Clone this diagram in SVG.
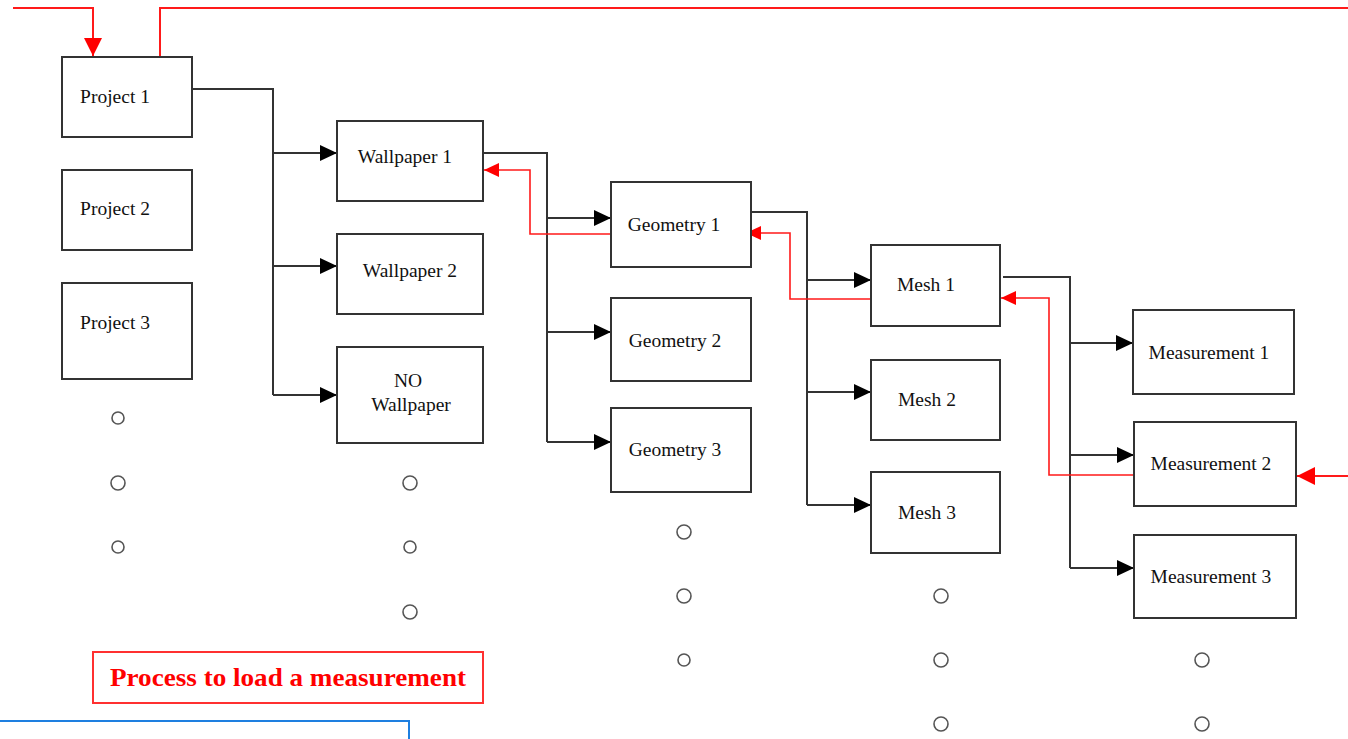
<svg xmlns="http://www.w3.org/2000/svg" width="1348" height="739" viewBox="0 0 1348 739">
<style>
.box{fill:#fff;stroke:#333;stroke-width:2}
.lbl{font-family:"Liberation Serif","Times New Roman",serif;font-size:19.5px;fill:#111;text-anchor:middle}
.con{fill:none;stroke:#333;stroke-width:2}
.red{fill:none;stroke:#ff1a1a;stroke-width:1.6}
.redt{fill:none;stroke:#ff1a1a;stroke-width:2}
.dot{fill:#fff;stroke:#555;stroke-width:1.6}
</style>
<defs>
<marker id="ab" markerUnits="userSpaceOnUse" markerWidth="18" markerHeight="18" refX="17" refY="9" orient="auto" viewBox="0 0 18 18">
<path d="M0,1 L17,9 L0,17 z" fill="#000"/>
</marker>
<marker id="ar" markerUnits="userSpaceOnUse" markerWidth="16" markerHeight="16" refX="15" refY="8" orient="auto" viewBox="0 0 16 16">
<path d="M0,1 L15,8 L0,15 z" fill="#ff0000"/>
</marker>
<marker id="arb" markerUnits="userSpaceOnUse" markerWidth="20" markerHeight="20" refX="18" refY="10" orient="auto" viewBox="0 0 20 20">
<path d="M0,1 L18,10 L0,19 z" fill="#ff0000"/>
</marker>
</defs>
<rect width="1348" height="739" fill="#fff"/>

<g id="connectors">
<path class="redt" d="M13,8 H93 V56" marker-end="url(#arb)"/>
<path class="redt" d="M160,57 V8 H1348"/>
<path class="redt" d="M1348,476 H1297" marker-end="url(#arb)"/>
<path class="con" d="M192,89 H273 V395"/>
<path class="con" d="M273,153 H337" marker-end="url(#ab)"/>
<path class="con" d="M273,266 H337" marker-end="url(#ab)"/>
<path class="con" d="M273,395 H337" marker-end="url(#ab)"/>
<path class="con" d="M483,153 H547 V442"/>
<path class="con" d="M547,218 H611" marker-end="url(#ab)"/>
<path class="con" d="M547,332 H611" marker-end="url(#ab)"/>
<path class="con" d="M547,442 H611" marker-end="url(#ab)"/>
<path class="con" d="M751,212 H807 V505"/>
<path class="con" d="M807,280 H871" marker-end="url(#ab)"/>
<path class="con" d="M807,392 H871" marker-end="url(#ab)"/>
<path class="con" d="M807,505 H871" marker-end="url(#ab)"/>
<path class="con" d="M1003,277 H1070 V568"/>
<path class="con" d="M1070,343 H1133" marker-end="url(#ab)"/>
<path class="con" d="M1070,455 H1134" marker-end="url(#ab)"/>
<path class="con" d="M1070,568 H1134" marker-end="url(#ab)"/>
<path class="red" d="M611,234 H530 V170 H484" marker-end="url(#ar)"/>
<path class="red" d="M871,299 H790 V233 H746" marker-end="url(#ar)"/>
<path class="red" d="M1133,475 H1049 V298 H1001" marker-end="url(#ar)"/>
</g>

<g id="project1"><rect class="box" x="62" y="57" width="130" height="80"/><text class="lbl" x="115" y="103">Project 1</text></g>
<g id="project2"><rect class="box" x="62" y="170" width="130" height="80"/><text class="lbl" x="115" y="215">Project 2</text></g>
<g id="project3"><rect class="box" x="62" y="283" width="130" height="96"/><text class="lbl" x="115" y="329">Project 3</text></g>

<g id="wallpaper1"><rect class="box" x="337" y="121" width="146" height="80"/><text class="lbl" x="405" y="163">Wallpaper 1</text></g>
<g id="wallpaper2"><rect class="box" x="337" y="234" width="146" height="80"/><text class="lbl" x="410" y="277">Wallpaper 2</text></g>
<g id="nowallpaper"><rect class="box" x="337" y="347" width="146" height="96"/><text class="lbl" x="408" y="387">NO</text><text class="lbl" x="411" y="411">Wallpaper</text></g>

<g id="geometry1"><rect class="box" x="611" y="182" width="140" height="85"/><text class="lbl" x="674" y="231">Geometry 1</text></g>
<g id="geometry2"><rect class="box" x="611" y="298" width="140" height="83"/><text class="lbl" x="675" y="347">Geometry 2</text></g>
<g id="geometry3"><rect class="box" x="611" y="408" width="140" height="84"/><text class="lbl" x="675" y="456">Geometry 3</text></g>

<g id="mesh1"><rect class="box" x="871" y="245" width="129" height="81"/><text class="lbl" x="926" y="291">Mesh 1</text></g>
<g id="mesh2"><rect class="box" x="871" y="360" width="129" height="80"/><text class="lbl" x="927" y="406">Mesh 2</text></g>
<g id="mesh3"><rect class="box" x="871" y="472" width="129" height="81"/><text class="lbl" x="927" y="519">Mesh 3</text></g>

<g id="measurement1"><rect class="box" x="1133" y="310" width="161" height="84"/><text class="lbl" x="1209" y="359">Measurement 1</text></g>
<g id="measurement2"><rect class="box" x="1134" y="422" width="162" height="84"/><text class="lbl" x="1211" y="470">Measurement 2</text></g>
<g id="measurement3"><rect class="box" x="1134" y="535" width="162" height="83"/><text class="lbl" x="1211" y="583">Measurement 3</text></g>

<g id="dots">
<circle class="dot" cx="118" cy="418" r="6"/>
<circle class="dot" cx="118" cy="483" r="7"/>
<circle class="dot" cx="118" cy="547" r="6"/>
<circle class="dot" cx="410" cy="483" r="7"/>
<circle class="dot" cx="410" cy="547" r="6"/>
<circle class="dot" cx="410" cy="612" r="7"/>
<circle class="dot" cx="684" cy="532" r="7"/>
<circle class="dot" cx="684" cy="596" r="7"/>
<circle class="dot" cx="684" cy="660" r="6"/>
<circle class="dot" cx="941" cy="596" r="7"/>
<circle class="dot" cx="941" cy="660" r="7"/>
<circle class="dot" cx="941" cy="724" r="7"/>
<circle class="dot" cx="1202" cy="660" r="7"/>
<circle class="dot" cx="1202" cy="724" r="7"/>
</g>

<g id="title">
<rect x="93" y="652" width="390" height="51" fill="#fff" stroke="#ff3030" stroke-width="2"/>
<text x="288" y="686" font-family="Liberation Serif,'Times New Roman',serif" font-size="25" font-weight="bold" fill="#ff0000" text-anchor="middle" textLength="356" lengthAdjust="spacingAndGlyphs">Process to load a measurement</text>
</g>

<g id="bluebox">
<rect x="-2" y="721" width="411" height="30" fill="#fff" stroke="#1e7fe0" stroke-width="2"/>
</g>
</svg>
